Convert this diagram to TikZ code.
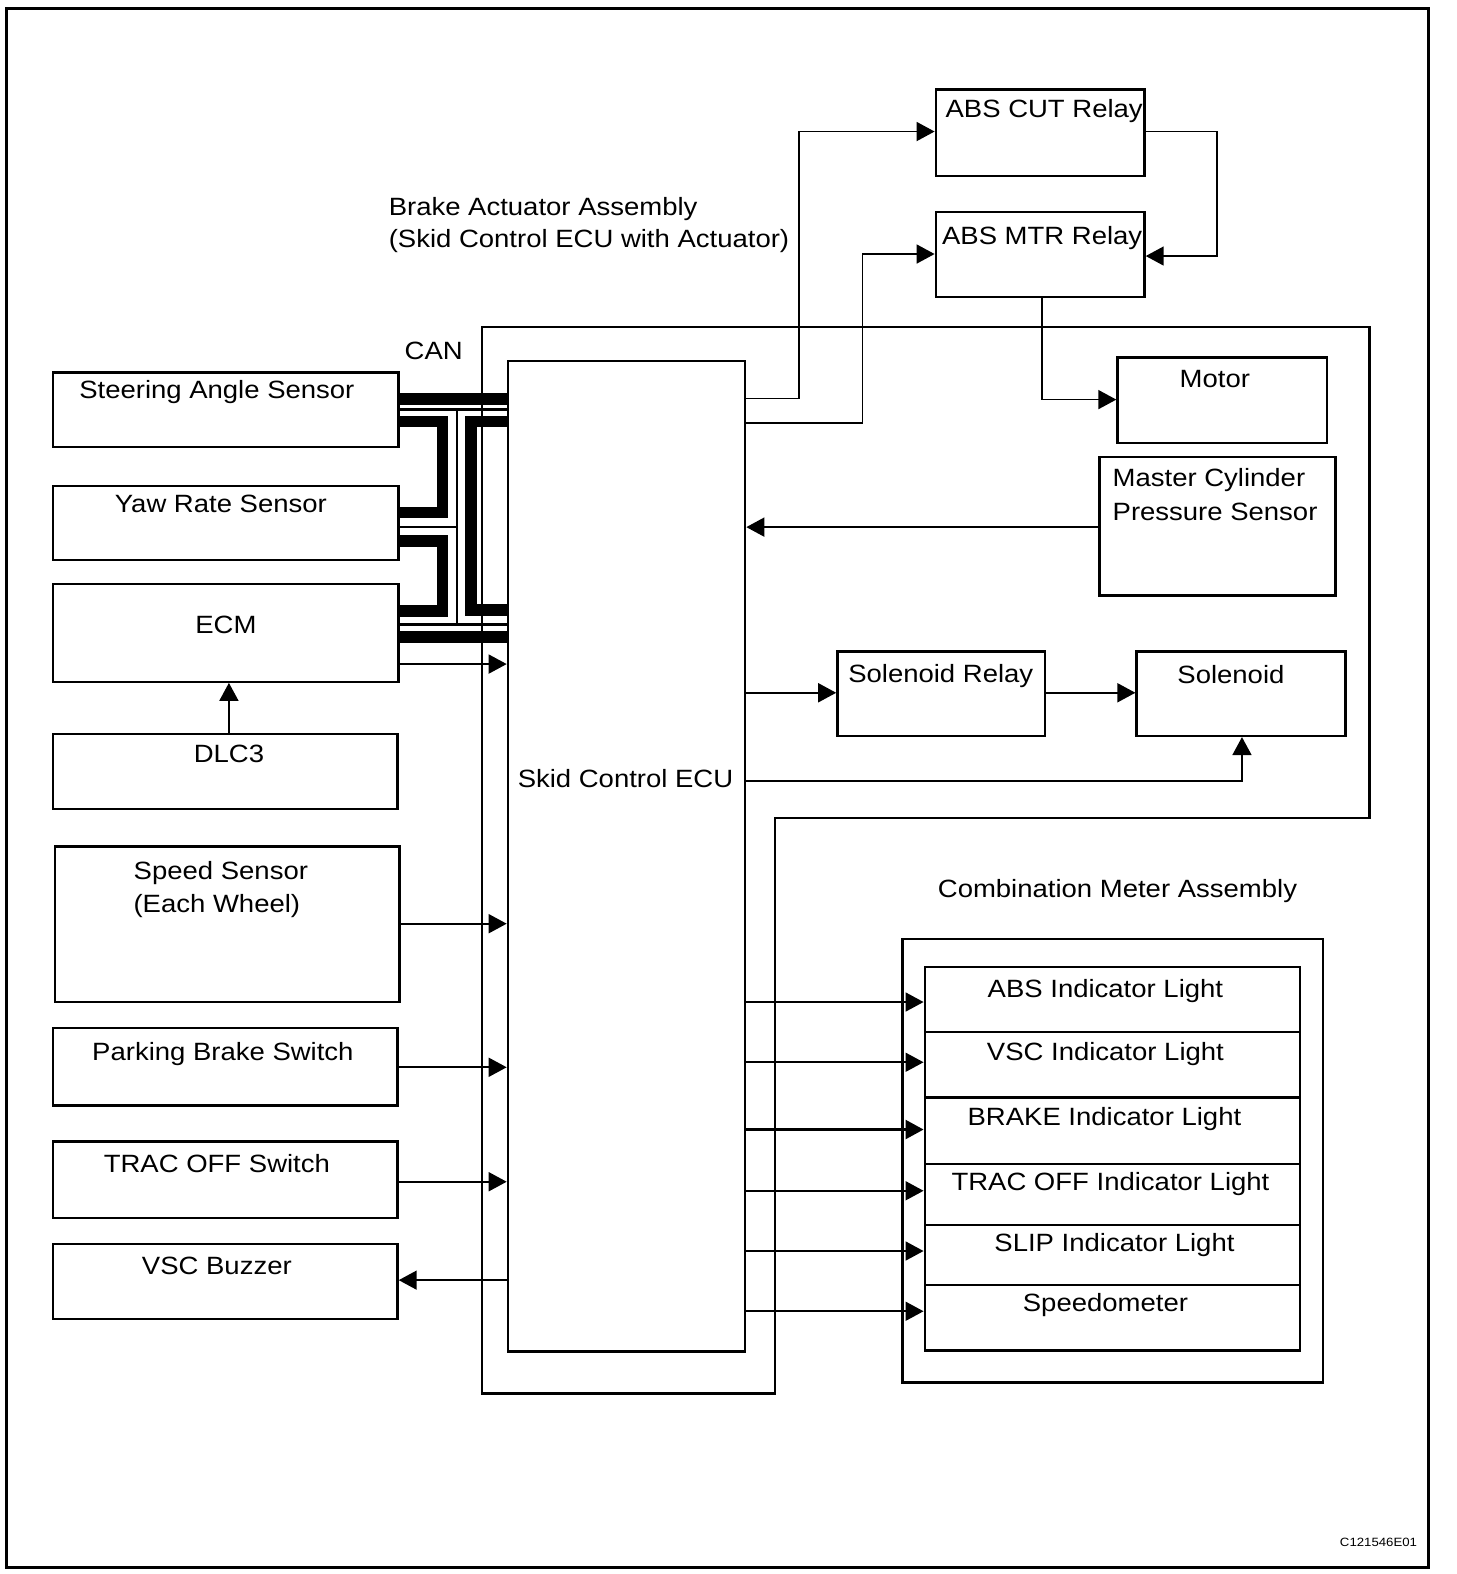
\documentclass[tikz,border=0pt]{standalone}
\usepackage{fontspec}
\setmainfont{Liberation Sans}[FakeStretch=1.1]
\usetikzlibrary{arrows.meta,fit}
\begin{document}
\begin{tikzpicture}[x=1.004pt,y=-1.004pt,
  box/.style={draw, line width=2.3pt, inner sep=0pt},
  txt/.style={anchor=base, inner sep=0pt, font=\fontsize{25pt}{30pt}\selectfont},
  ltxt/.style={anchor=base west, inner sep=0pt, font=\fontsize{25pt}{30pt}\selectfont},
  arr/.style={line width=1.7pt, -{Triangle[length=18pt,width=19pt]}},
  canthick/.style={line width=11.8pt, line join=miter},
  canthin/.style={line width=2.3pt}
]
\useasboundingbox (0,0) rectangle (1450.2,1567.7);
\draw[line width=3pt] (6.97,7.97) rectangle (1422.3,1560.8);

% actuator assembly outline
\draw[line width=2.3pt] (480,326) -- (1364,326) -- (1364,815) -- (772,815) -- (772,1388) -- (480,1388) -- cycle;
\node[ltxt] (actlbl1) at (387,215) {Brake Actuator Assembly};
\node[ltxt] (actlbl2) at (387,247) {(Skid Control ECU with Actuator)};
\node[txt] (canlbl) at (432,358.5) {CAN};

% left boxes
\node[box, fit={(53,371) (397,445)}] (steer) {};
\node[box, fit={(53,484) (397,558)}] (yaw) {};
\node[box, fit={(53,582) (397,679)}] (ecm) {};
\node[box, fit={(53,731) (396,806)}] (dlc) {};
\node[box, fit={(55,843) (398,998)}] (speed) {};
\node[box, fit={(53,1024) (396,1101)}] (park) {};
\node[box, fit={(53,1137) (396,1213)}] (trac) {};
\node[box, fit={(53,1239) (396,1314)}] (buzz) {};
\node[txt] (steert) at (216,397) {Steering Angle Sensor};
\node[txt] (yawt) at (220,510) {Yaw Rate Sensor};
\node[txt] (ecmt) at (225,631) {ECM};
\node[txt] (dlct) at (228,759) {DLC3};
\node[txt] (speedt1) at (220,876) {Speed Sensor};
\node[txt] (speedt2) at (216,909) {(Each Wheel)};
\node[txt] (parkt) at (222,1056) {Parking Brake Switch};
\node[txt] (tract) at (216,1168) {TRAC OFF Switch};
\node[txt] (buzzt) at (216,1269) {VSC Buzzer};

% ECU
\node[draw, line width=2.7pt, inner sep=0pt, fit={(506,359.5) (742,1346)}] (ecu) {};
\node[txt] (ecut) at (623,784) {Skid Control ECU};

% right boxes
\node[box, fit={(932,89) (1140,175)}] (cut) {};
\node[box, fit={(932,211) (1140,296)}] (mtr) {};
\node[box, fit={(1113,356) (1322,441)}] (motor) {};
\node[box, fit={(1095,455) (1330,593)}] (mcps) {};
\node[box, fit={(834,649) (1041,733)}] (srelay) {};
\node[box, fit={(1132,649) (1340,733)}] (sol) {};
\node[txt] (cutt) at (1040,117.5) {ABS CUT Relay};
\node[txt] (mtrt) at (1038,244) {ABS MTR Relay};
\node[txt] (motort) at (1210,386) {Motor};
\node[ltxt] (mcpst1) at (1108,485) {Master Cylinder};
\node[ltxt] (mcpst2) at (1108,518) {Pressure Sensor};
\node[txt] (srelayt) at (937,680) {Solenoid Relay};
\node[txt] (solt) at (1226,681) {Solenoid};

% combination meter
\node[txt] (combot) at (1113,894) {Combination Meter Assembly};
\node[box, fit={(899,935) (1318,1377)}] (combo) {};
\node[box, fit={(921,963) (1295,1028)}] (r1) {};
\node[box, fit={(921,1028) (1295,1093)}] (r2) {};
\node[box, fit={(921,1093) (1295,1159)}] (r3) {};
\node[box, fit={(921,1159) (1295,1220)}] (r4) {};
\node[box, fit={(921,1220) (1295,1280)}] (r5) {};
\node[box, fit={(921,1280) (1295,1345)}] (r6) {};
\node[txt] (r1t) at (1101,993) {ABS Indicator Light};
\node[txt] (r2t) at (1101,1056) {VSC Indicator Light};
\node[txt] (r3t) at (1100,1121) {BRAKE Indicator Light};
\node[txt] (r4t) at (1106,1186) {TRAC OFF Indicator Light};
\node[txt] (r5t) at (1110,1246) {SLIP Indicator Light};
\node[txt] (r6t) at (1101,1306) {Speedometer};

\node[anchor=base, inner sep=0pt, font=\fontsize{12pt}{14pt}\selectfont] (code) at (1373,1540.5) {C121546E01};

% CAN bus
\draw[canthick] (steer.east |- 0,397.4) -- (ecu.west |- 0,397.4);
\draw[canthin] (steer.east |- 0,407.9) -- (ecu.west |- 0,407.9);
\draw[canthick] (steer.east |- 0,419.8) -- (440.7,419.8) -- (440.7,510.5) -- (yaw.east |- 0,510.5);
\draw[canthick] (yaw.east |- 0,538.8) -- (440.7,538.8) -- (440.7,608.6) -- (ecm.east |- 0,608.6);
\draw[canthick] (ecu.west |- 0,419.8) -- (469.1,419.8) -- (469.1,607.6) -- (ecu.west |- 0,607.6);
\draw[canthin] (455.2,407.9) -- (455.2,622);
\draw[canthin] (yaw.east |- 0,524.9) -- (455.2,524.9);
\draw[canthin] (ecm.east |- 0,622) -- (ecu.west |- 0,622);
\draw[canthick] (ecm.east |- 0,634.5) -- (ecu.west |- 0,634.5);

% left connectors
\draw[arr] (ecm.east |- 0,661.4) -- (ecu.west |- 0,661.4);
\draw[arr] (dlc.north -| 228,0) -- (ecm.south -| 228,0);
\draw[arr] (speed.east |- 0,920) -- (ecu.west |- 0,920);
\draw[arr] (park.east |- 0,1063) -- (ecu.west |- 0,1063);
\draw[arr] (trac.east |- 0,1177) -- (ecu.west |- 0,1177);
\draw[arr] (ecu.west |- 0,1275) -- (buzz.east |- 0,1275);

% right connectors
\draw[arr] (ecu.east |- 0,397) -- (796,397) |- (cut.west |- 0,131);
\draw[arr] (ecu.east |- 0,421) -- (859,421) |- (mtr.west |- 0,253);
\draw[arr] (cut.east |- 0,131) -- (1212,131) |- (mtr.east |- 0,255);
\draw[arr] (mtr.south -| 1038,0) |- (motor.west |- 0,398);
\draw[arr] (mcps.west |- 0,525) -- (ecu.east |- 0,525);
\draw[arr] (ecu.east |- 0,690) -- (srelay.west |- 0,690);
\draw[arr] (srelay.east |- 0,690) -- (sol.west |- 0,690);
\draw[arr] (ecu.east |- 0,778) -| (sol.south -| 1237,0);

\draw[arr] (ecu.east |- 0,998) -- (r1.west |- 0,998);
\draw[arr] (ecu.east |- 0,1058) -- (r2.west |- 0,1058);
\draw[arr, line width=2.4pt] (ecu.east |- 0,1125) -- (r3.west |- 0,1125);
\draw[arr] (ecu.east |- 0,1186) -- (r4.west |- 0,1186);
\draw[arr] (ecu.east |- 0,1246) -- (r5.west |- 0,1246);
\draw[arr] (ecu.east |- 0,1306) -- (r6.west |- 0,1306);
\end{tikzpicture}
\end{document}
